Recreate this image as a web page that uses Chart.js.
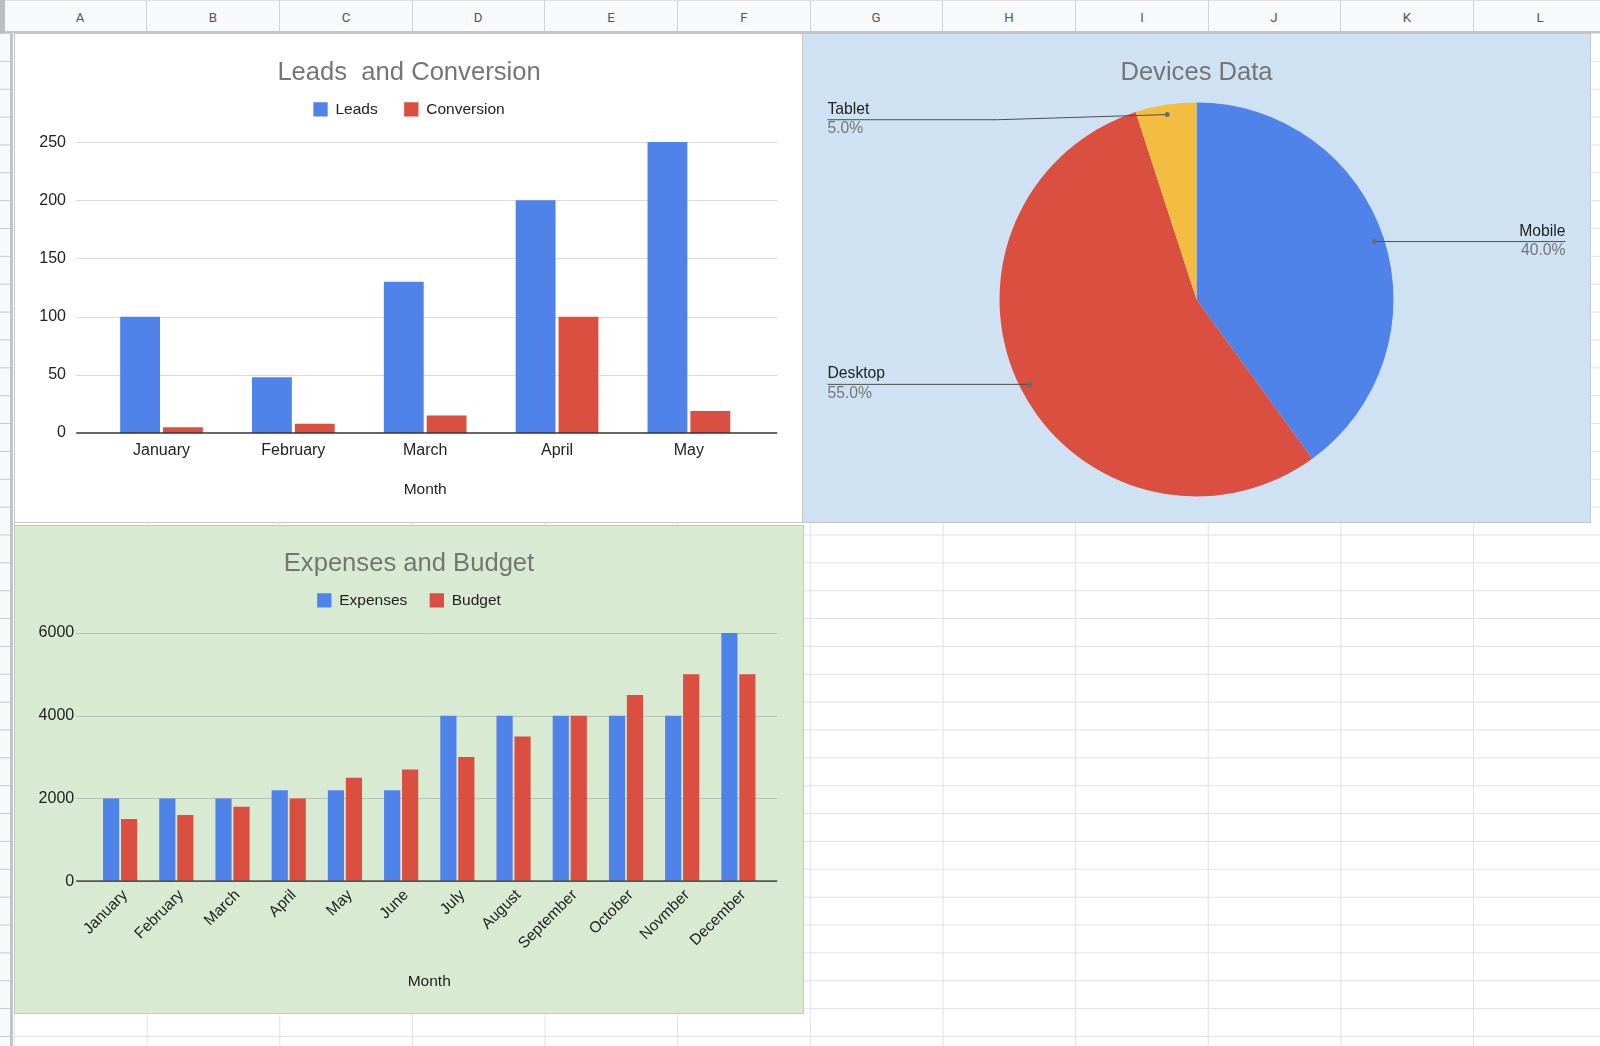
<!DOCTYPE html>
<html lang="en">
<head>
  <meta charset="UTF-8">
  <title>Sheet charts</title>
  <script src="https://cdn.jsdelivr.net/npm/chart.js"></script>
  <style>
    body {
      margin: 0;
      width: 1600px;
      height: 1046px;
      overflow: hidden;
      position: relative;
      background: #fff;
      font-family: 'Liberation Sans', Arial, sans-serif;
    }
    .cells {
      position: absolute;
      left: 14.3px; top: 32.6px; right: 0; bottom: 0;
      background-image:
        linear-gradient(to right, #e2e2e2 1px, transparent 1px),
        linear-gradient(to bottom, #e2e2e2 1px, transparent 1px);
      background-size: 132.65px 27.86px;
    }
    .rowhead {
      position: absolute;
      left: 0; top: 32.6px; width: 10px; bottom: 0;
      background-color: #f8f9fa;
      background-image: linear-gradient(to bottom, #c8c8c8 1px, transparent 1px);
      background-size: 10px 27.86px;
      border-right: 3px solid #c4c4c4;
    }
    .colhead {
      position: absolute;
      left: 0; top: 0; width: 1600px; height: 30px;
      background: #f8f9fa;
      border-top: 1px solid #e0e0e0;
      border-bottom: 2px solid #c4c4c4;
    }
    .colhead span {
      position: absolute;
      top: 0;
      width: 132px;
      height: 30px;
      line-height: 33px;
      text-align: center;
      font-family: Roboto, Arial, sans-serif;
      font-size: 13.3px;
      color: #555;
      border-right: 1px solid #d2d2d2;
    }
    .corner {
      position: absolute;
      left: 0; top: 0; width: 5px; height: 33px;
      background: #bdbdbd;
    }
    canvas {
      position: absolute;
      box-shadow: 0 0 0 1px #c6c6c6;
    }
    #leadsChart { left: 15px; top: 34px; background: #fff; }
    #devicesChart { left: 803px; top: 34px; background: #cfe2f3; }
    #budgetChart { left: 15px; top: 526px; background: #d9ead3; }
  </style>
</head>
<body>
  <div class="cells"></div>
  <div class="rowhead"></div>
  <div class="colhead">
    <span style="left:14px">A</span>
    <span style="left:147px">B</span>
    <span style="left:280px">C</span>
    <span style="left:412px">D</span>
    <span style="left:545px">E</span>
    <span style="left:678px">F</span>
    <span style="left:810px">G</span>
    <span style="left:943px">H</span>
    <span style="left:1076px">I</span>
    <span style="left:1208px">J</span>
    <span style="left:1341px">K</span>
    <span style="left:1474px">L</span>
  </div>
  <div class="corner"></div>

  <canvas id="leadsChart" width="788" height="488"></canvas>
  <canvas id="devicesChart" width="787" height="488"></canvas>
  <canvas id="budgetChart" width="788" height="487"></canvas>

  <script>
    const leadMonths = ['January', 'February', 'March', 'April', 'May'];
    const leads = [100, 48, 130, 200, 250];
    const conversions = [5, 8, 15, 100, 19];
    const leadTicks = [0, 50, 100, 150, 200, 250];

    const deviceNames = ['Mobile', 'Desktop', 'Tablet'];
    const deviceShares = [40, 55, 5];

    const budgetMonths = ['January', 'February', 'March', 'April', 'May', 'June',
      'July', 'August', 'September', 'October', 'Novmber', 'December'];
    const expenses = [2000, 2000, 2000, 2200, 2200, 2200, 4000, 4000, 4000, 4000, 4000, 6000];
    const budget = [1500, 1600, 1800, 2000, 2500, 2700, 3000, 3500, 4000, 4500, 5000, 5000];
    const budgetTicks = [0, 2000, 4000, 6000];

    const BLUE = '#4f83ea';
    const RED = '#da4f3f';
    const YELLOW = '#f3bd41';
    const FONT = "'Liberation Sans', Arial, sans-serif";

    Chart.defaults.font.family = FONT;
    Chart.defaults.color = '#222';

    // linhas horizontais um pouco mais largas que a área do gráfico, como no Sheets
    const sheetGrid = {
      id: 'sheetGrid',
      beforeDatasetsDraw(chart, args, opts) {
        const { ctx, chartArea } = chart;
        const y = chart.scales.y;
        ctx.save();
        ctx.strokeStyle = opts.color;
        ctx.lineWidth = 1;
        y.ticks.forEach(t => {
          if (t.value === 0) return;
          const py = Math.round(y.getPixelForValue(t.value)) + 0.5;
          ctx.beginPath();
          ctx.moveTo(chartArea.left - opts.left, py);
          ctx.lineTo(chartArea.right + opts.right, py);
          ctx.stroke();
        });
        ctx.restore();
      },
      afterDatasetsDraw(chart, args, opts) {
        const { ctx, chartArea } = chart;
        const py = chart.scales.y.getPixelForValue(0);
        ctx.save();
        ctx.strokeStyle = opts.base;
        ctx.lineWidth = 1.6;
        ctx.beginPath();
        ctx.moveTo(chartArea.left - opts.left, py);
        ctx.lineTo(chartArea.right + opts.right, py);
        ctx.stroke();
        ctx.restore();
      }
    };

    // espaço extra entre a legenda e o gráfico
    const legendGap = {
      id: 'legendGap',
      afterInit(chart, args, opts) {
        const legend = chart.legend;
        if (!legend) return;
        const fit = legend.fit;
        legend.fit = function () {
          fit.call(this);
          this.height += opts.extra;
        };
      }
    };

    // rótulos do gráfico de pizza com linha de chamada
    const pieLabels = {
      id: 'pieLabels',
      afterDatasetsDraw(chart, args, opts) {
        const { ctx, chartArea } = chart;
        const meta = chart.getDatasetMeta(0);
        const data = chart.data.datasets[0].data;
        const total = data.reduce((a, b) => a + b, 0);
        ctx.save();
        meta.data.forEach((arc, i) => {
          const p = arc.getProps(['x', 'y', 'startAngle', 'endAngle', 'outerRadius'], true);
          const mid = (p.startAngle + p.endAngle) / 2;
          const ax = p.x + Math.cos(mid) * p.outerRadius * 0.95;
          const ay = p.y + Math.sin(mid) * p.outerRadius * 0.95;
          const right = Math.cos(mid) > 0;
          const lx = right ? chart.width - opts.edge : opts.edge;
          const ly = Math.max(ay, chartArea.top + opts.minTop);

          ctx.strokeStyle = '#4d4d4d';
          ctx.lineWidth = 1;
          ctx.beginPath();
          ctx.moveTo(ax, ay);
          if (Math.abs(ly - ay) > 1) ctx.lineTo((ax + lx) / 2, ly);
          ctx.lineTo(lx, ly);
          ctx.stroke();

          ctx.fillStyle = '#6b6b6b';
          ctx.beginPath();
          ctx.arc(ax, ay, 2.5, 0, Math.PI * 2);
          ctx.fill();

          ctx.textAlign = right ? 'right' : 'left';
          ctx.textBaseline = 'middle';
          ctx.font = '15.7px ' + FONT;
          ctx.fillStyle = '#222';
          ctx.fillText(chart.data.labels[i], lx, ly - 10.2);
          ctx.fillStyle = '#757575';
          ctx.fillText((data[i] / total * 100).toFixed(1) + '%', lx, ly + 9.4);
        });
        ctx.restore();
      }
    };

    const titleFont = { size: 25.6, weight: 'normal' };
    const legendLabels = { boxWidth: 14.3, boxHeight: 14.3, font: { size: 15.5 }, color: '#222' };

    // eixo vazio à direita, só para reservar a margem sem deslocar título e legenda
    const rightMargin = w => ({
      type: 'linear',
      position: 'right',
      grid: { display: false, drawTicks: false },
      border: { display: false },
      ticks: { display: false },
      afterFit: s => { s.width = w; }
    });

    new Chart(document.getElementById('leadsChart'), {
      type: 'bar',
      data: {
        labels: leadMonths,
        datasets: [
          { label: 'Leads', data: leads, backgroundColor: BLUE },
          { label: 'Conversion', data: conversions, backgroundColor: RED }
        ]
      },
      options: {
        responsive: false,
        animation: false,
        datasets: { bar: { categoryPercentage: 0.65, barPercentage: 0.93 } },
        scales: {
          x: {
            grid: { display: false, drawTicks: false },
            border: { display: false },
            ticks: { padding: 7.5, font: { size: 16 }, color: '#222' },
            title: { display: true, text: 'Month', font: { size: 15.5 }, color: '#222', padding: { top: 0, bottom: 22.7 } },
            afterFit: s => { s.height = 89; }
          },
          y: {
            min: leadTicks[0],
            max: leadTicks[leadTicks.length - 1],
            grid: { display: false, drawTicks: false },
            border: { display: false },
            ticks: { stepSize: leadTicks[1] - leadTicks[0], padding: 29.6, font: { size: 16 }, color: '#222' },
            afterFit: s => { s.width = 80.6; }
          },
          pad: rightMargin(48.2)
        },
        plugins: {
          title: {
            display: true, text: 'Leads  and Conversion', color: '#757575', font: titleFont,
            padding: { top: 24, bottom: -13.5 }
          },
          legend: { labels: { ...legendLabels, padding: 26.5 } },
          legendGap: { extra: 14.9 },
          sheetGrid: { left: 19.4, right: 22.4, color: '#d9d9d9', base: '#333' },
          tooltip: { enabled: false }
        }
      },
      plugins: [sheetGrid, legendGap]
    });

    new Chart(document.getElementById('devicesChart'), {
      type: 'pie',
      data: {
        labels: deviceNames,
        datasets: [{ data: deviceShares, backgroundColor: [BLUE, RED, YELLOW], borderWidth: 0 }]
      },
      options: {
        responsive: false,
        animation: false,
        layout: { padding: { bottom: 25.6 } },
        plugins: {
          title: {
            display: true, text: 'Devices Data', color: '#757575', font: titleFont,
            padding: { top: 24, bottom: 13.7 }
          },
          legend: { display: false },
          tooltip: { enabled: false },
          pieLabels: { edge: 24.5, minTop: 17.3 }
        }
      },
      plugins: [pieLabels]
    });

    new Chart(document.getElementById('budgetChart'), {
      type: 'bar',
      data: {
        labels: budgetMonths,
        datasets: [
          { label: 'Expenses', data: expenses, backgroundColor: BLUE },
          { label: 'Budget', data: budget, backgroundColor: RED }
        ]
      },
      options: {
        responsive: false,
        animation: false,
        datasets: { bar: { categoryPercentage: 0.64, barPercentage: 0.9 } },
        scales: {
          x: {
            grid: { display: false, drawTicks: false },
            border: { display: false },
            ticks: { padding: 5, labelOffset: 5, minRotation: 45, maxRotation: 45, font: { size: 15.5 }, color: '#222' },
            title: { display: true, text: 'Month', font: { size: 15.5 }, color: '#222', padding: { top: 0, bottom: 21.7 } },
            afterFit: s => { s.height = 131.9; }
          },
          y: {
            min: budgetTicks[0],
            max: budgetTicks[budgetTicks.length - 1],
            grid: { display: false, drawTicks: false },
            border: { display: false },
            ticks: {
              stepSize: budgetTicks[1] - budgetTicks[0], padding: 17.8, font: { size: 16 }, color: '#222',
              callback: v => String(v)
            },
            afterFit: s => { s.width = 77; }
          },
          pad: rightMargin(36.5)
        },
        plugins: {
          title: {
            display: true, text: 'Expenses and Budget', color: '#757575', font: titleFont,
            padding: { top: 22.9, bottom: -9.3 }
          },
          legend: { labels: { ...legendLabels, padding: 22.4 } },
          legendGap: { extra: 14.8 },
          sheetGrid: { left: 15.8, right: 10.7, color: '#b9c3b5', base: '#555' },
          tooltip: { enabled: false }
        }
      },
      plugins: [sheetGrid, legendGap]
    });
  </script>
</body>
</html>
